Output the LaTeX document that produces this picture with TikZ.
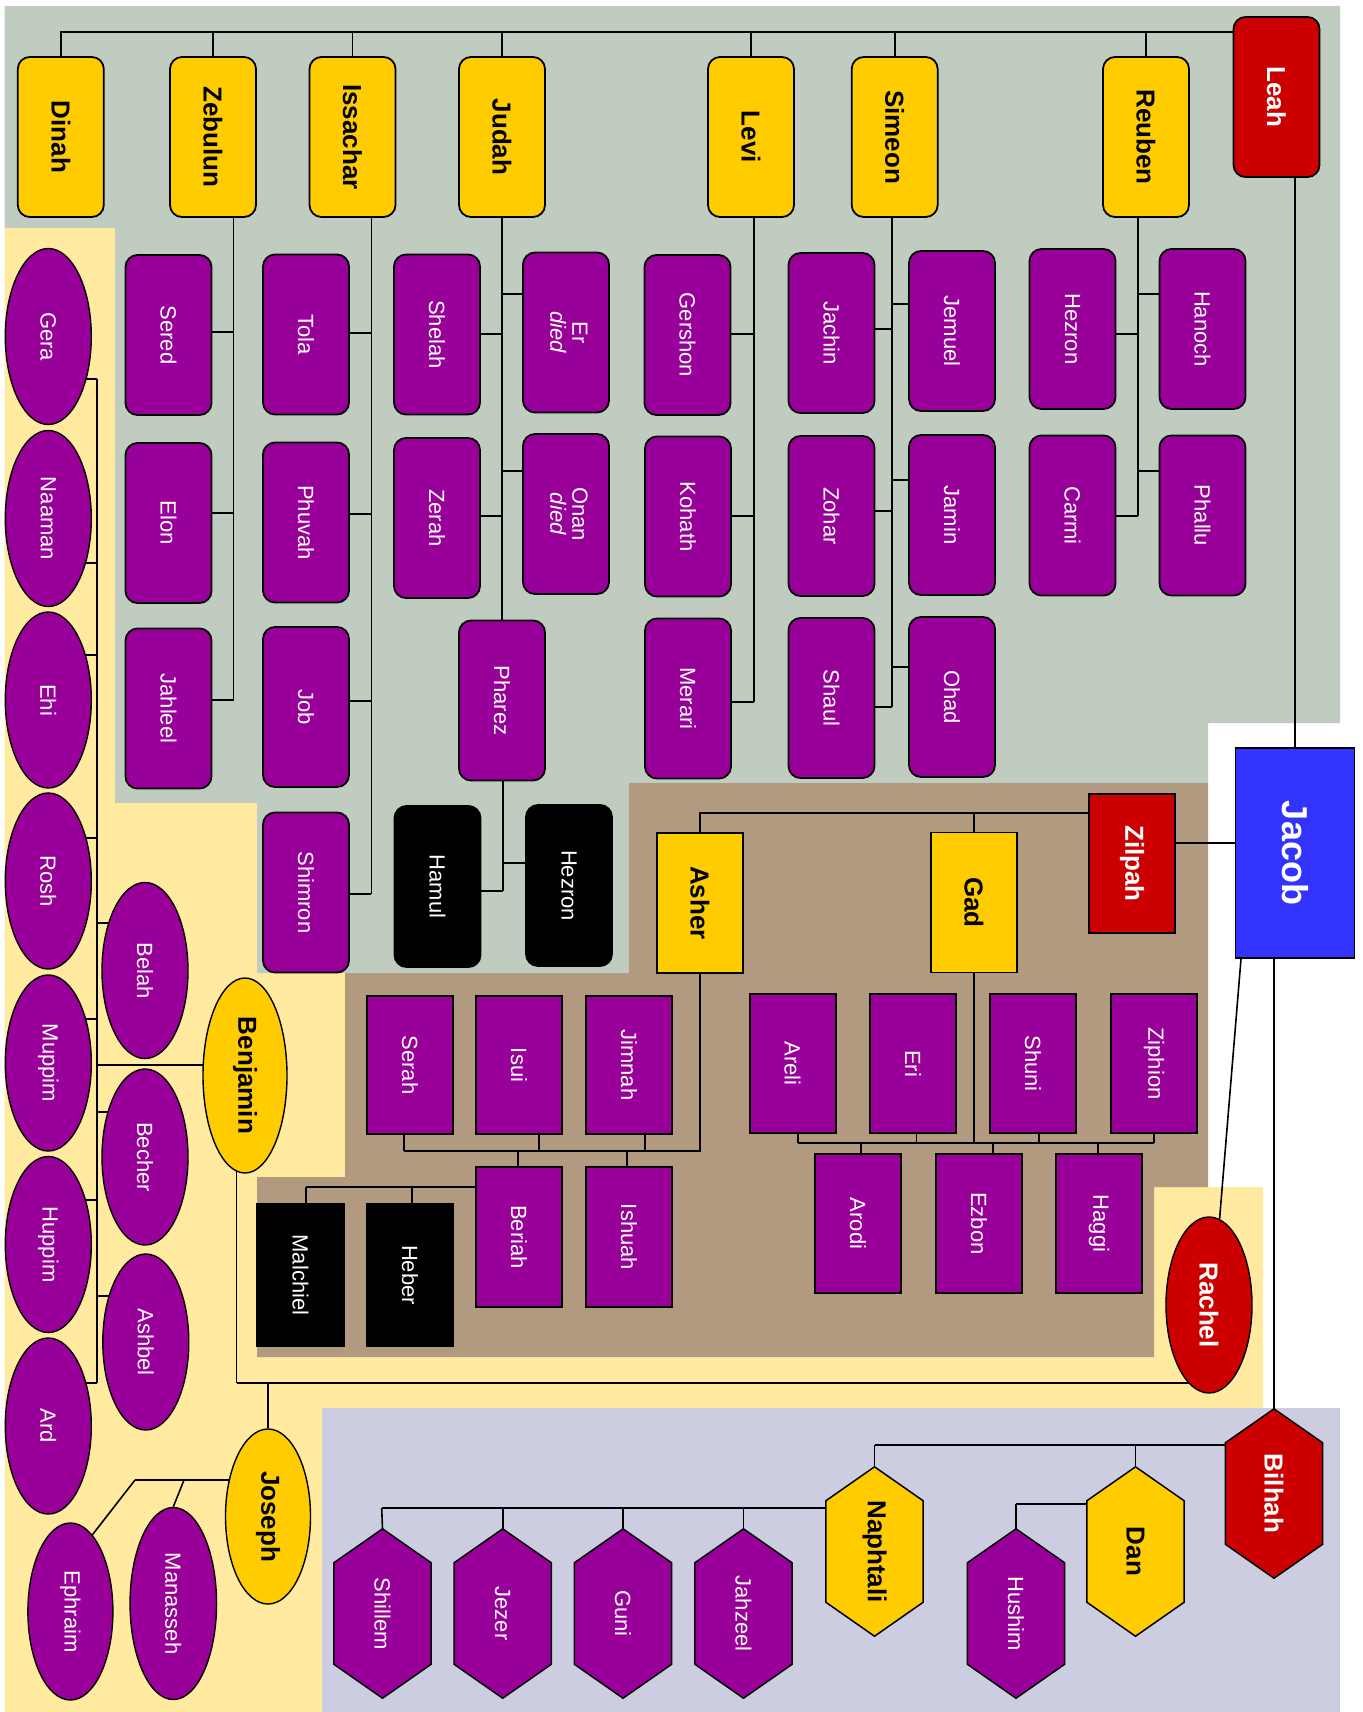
\documentclass[tikz,border=0pt]{standalone}
\usepackage{fontspec}
\setmainfont{Liberation Sans}
\usepackage{graphicx}
\usetikzlibrary{shapes.geometric}
\definecolor{purp}{HTML}{990099}
\definecolor{gold}{HTML}{FFCC00}
\definecolor{redc}{HTML}{CC0000}
\definecolor{bluec}{HTML}{3333FF}
\definecolor{bggray}{RGB}{193,204,193}
\definecolor{bgyel}{RGB}{255,234,160}
\definecolor{bgtan}{RGB}{178,154,128}
\definecolor{bgblue}{RGB}{204,205,224}
\pgfdeclarelayer{bglayer}
\pgfdeclarelayer{linelayer}
\pgfdeclarelayer{shapelayer}
\pgfsetlayers{bglayer,linelayer,shapelayer,main}
\newcommand\myrot[1]{\rotatebox{-90}{#1}}
\newcommand\hlink[3]{\path ([shift={(0,#2)}]#1.center) coordinate (tmpc); \draw[conn] (tmpc) -- (tmpc -| #3);}
\newcommand\vlink[3]{\path ([shift={(#2,0)}]#1.center) coordinate (tmpc); \draw[conn] (tmpc) -- (tmpc |- #3);}
\newcommand\hexa[2]{\filldraw[fill=#2,draw=black,line width=1.5pt] (#1.north) -- ([yshift=-34pt]#1.north east) -- ([yshift=34pt]#1.south east) -- (#1.south) -- ([yshift=34pt]#1.south west) -- ([yshift=-34pt]#1.north west) -- cycle;}
\tikzset{
  conn/.style={draw=black, line width=1.6pt},
  base/.style={draw=black, line width=1.8pt, inner sep=0pt, minimum width=86pt, minimum height=160pt},
  kidfont/.style={text=white, font=\fontsize{22}{20}\selectfont},
  parfont/.style={text=black, font=\bfseries\fontsize{26}{30}\selectfont},
  kid/.style={base, fill=purp, kidfont, rounded corners=12pt},
  blk/.style={base, fill=black, kidfont, rounded corners=12pt, minimum height=161pt},
  par/.style={base, fill=gold, parfont, rounded corners=12pt},
  kidsq/.style={base, fill=purp, kidfont, minimum height=139pt},
  blksq/.style={base, fill=black, kidfont, minimum width=87pt, minimum height=142pt},
  parsq/.style={base, fill=gold, parfont, minimum height=140pt},
  kidel/.style={ellipse, draw=black, line width=1.4pt, inner sep=0pt, fill=purp, kidfont, minimum width=86pt, minimum height=176pt},
  parel/.style={ellipse, draw=black, line width=1.4pt, inner sep=0pt, fill=gold, parfont, minimum width=85pt, minimum height=175pt},
  hexn/.style={rectangle, draw=none, inner sep=0pt, minimum width=97pt, minimum height=169pt},
}
\begin{document}
\begin{tikzpicture}[x=1pt,y=-1pt]
\useasboundingbox (0,0) rectangle (1362,1712);
\begin{pgfonlayer}{bglayer}
\fill[white] (0,0) rectangle (1362,1712);
\fill[bgyel] (4.5,228) -- (1154,228) -- (1154,1187) -- (1263,1187) -- (1263,1408) -- (322,1408) -- (322,1712) -- (4.5,1712) -- cycle;
\fill[bggray] (4.5,6) -- (1340,6) -- (1340,723) -- (1208,723) -- (1208,783) -- (629,783) -- (629,973) -- (257,973) -- (257,803) -- (115,803) -- (115,228) -- (4.5,228) -- cycle;
\fill[bgtan] (629,783) -- (1208,783) -- (1208,1187) -- (1154,1187) -- (1154,1357) -- (257,1357) -- (257,1177) -- (345,1177) -- (345,973) -- (629,973) -- cycle;
\fill[bgblue] (322,1408) rectangle (1340,1712);
\end{pgfonlayer}

% ---------- Leah ----------
\node[par] (dinah) at (60.8,137) {\myrot{Dinah}};
\node[par] (zebulun) at (213,137) {\myrot{Zebulun}};
\node[par] (issachar) at (352.5,137) {\myrot{Issachar}};
\node[par] (judah) at (502,137) {\myrot{Judah}};
\node[par] (levi) at (751,137) {\myrot{Levi}};
\node[par] (simeon) at (894.7,137) {\myrot{Simeon}};
\node[par] (reuben) at (1146,137) {\myrot{Reuben}};
\node[par, fill=redc, text=white] (leah) at (1276.5,97) {\myrot{Leah}};

\node[kid] (sered) at (168.5,335) {\myrot{Sered}};
\node[kid] (elon) at (168.5,523) {\myrot{Elon}};
\node[kid] (jahleel) at (168.5,708.5) {\myrot{Jahleel}};
\node[kid] (tola) at (306,334.5) {\myrot{Tola}};
\node[kid] (phuvah) at (306,522.5) {\myrot{Phuvah}};
\node[kid] (job) at (306,707) {\myrot{Job}};
\node[kid] (shimron) at (306,892.5) {\myrot{Shimron}};
\node[kid] (er) at (566,332.5) {\myrot{\begin{tabular}{@{}c@{}}Er\\\textit{died}\end{tabular}}};
\node[kid] (shelah) at (437,334.5) {\myrot{Shelah}};
\node[kid] (onan) at (566,514) {\myrot{\begin{tabular}{@{}c@{}}Onan\\\textit{died}\end{tabular}}};
\node[kid] (zerah) at (437,518) {\myrot{Zerah}};
\node[kid] (pharez) at (502,700.5) {\myrot{Pharez}};
\node[blk] (hezronj) at (569,885.5) {\myrot{Hezron}};
\node[blk] (hamul) at (437.5,886.5) {\myrot{Hamul}};
\node[kid] (gershon) at (687.5,335) {\myrot{Gershon}};
\node[kid] (kohath) at (688,516.5) {\myrot{Kohath}};
\node[kid] (merari) at (688,698.5) {\myrot{Merari}};
\node[kid] (jachin) at (831.5,333) {\myrot{Jachin}};
\node[kid] (jemuel) at (952,331) {\myrot{Jemuel}};
\node[kid] (zohar) at (831.5,516) {\myrot{Zohar}};
\node[kid] (jamin) at (952,515) {\myrot{Jamin}};
\node[kid] (shaul) at (831.5,698) {\myrot{Shaul}};
\node[kid] (ohad) at (952,697) {\myrot{Ohad}};
\node[kid] (hezronr) at (1072.5,329) {\myrot{Hezron}};
\node[kid] (hanoch) at (1202.5,329) {\myrot{Hanoch}};
\node[kid] (carmi) at (1072.5,515.5) {\myrot{Carmi}};
\node[kid] (phallu) at (1202.5,515.5) {\myrot{Phallu}};

% ---------- Jacob ----------
\node[draw=black, line width=1.8pt, fill=bluec, text=white, font=\bfseries\fontsize{36}{40}\selectfont, minimum width=119pt, minimum height=210pt, inner sep=0pt] (jacob) at (1295,853) {\myrot{Jacob}};

% ---------- Zilpah ----------
\node[base, fill=redc, text=white, font=\bfseries\fontsize{26}{30}\selectfont, minimum height=139pt] (zilpah) at (1132,863.5) {\myrot{Zilpah}};
\node[parsq] (asher) at (700,903) {\myrot{Asher}};
\node[parsq] (gad) at (974,902.5) {\myrot{Gad}};
\node[kidsq, minimum height=138pt] (serah) at (410,1065) {\myrot{Serah}};
\node[kidsq, minimum height=138pt] (isui) at (519,1065) {\myrot{Isui}};
\node[kidsq, minimum height=138pt] (jimnah) at (629,1065) {\myrot{Jimnah}};
\node[kidsq, minimum height=140pt] (beriah) at (519,1237) {\myrot{Beriah}};
\node[kidsq, minimum height=140pt] (ishuah) at (629,1237) {\myrot{Ishuah}};
\node[blksq] (malchiel) at (300.5,1275) {\myrot{Malchiel}};
\node[blksq] (heber) at (410,1275) {\myrot{Heber}};
\node[kidsq] (areli) at (792.6,1063.5) {\myrot{Areli}};
\node[kidsq] (eri) at (913,1063.5) {\myrot{Eri}};
\node[kidsq] (shuni) at (1033,1063.5) {\myrot{Shuni}};
\node[kidsq] (ziphion) at (1154,1063.5) {\myrot{Ziphion}};
\node[kidsq] (arodi) at (858,1223.5) {\myrot{Arodi}};
\node[kidsq] (ezbon) at (979,1223.5) {\myrot{Ezbon}};
\node[kidsq] (haggi) at (1099,1223.5) {\myrot{Haggi}};

% ---------- Rachel ----------
\node[parel, fill=redc, text=white, minimum width=86pt, minimum height=176pt] (rachel) at (1209,1305) {\myrot{Rachel}};
\node[parel, minimum width=84pt, minimum height=195pt] (benjamin) at (245,1075.5) {\myrot{Benjamin}};
\node[parel] (joseph) at (268,1516.5) {\myrot{Joseph}};
\node[kidel] (gera) at (48.3,336.5) {\myrot{Gera}};
\node[kidel] (naaman) at (48.3,518.5) {\myrot{Naaman}};
\node[kidel] (ehi) at (48.3,700) {\myrot{Ehi}};
\node[kidel] (rosh) at (48.3,881) {\myrot{Rosh}};
\node[kidel] (muppim) at (48.3,1063) {\myrot{Muppim}};
\node[kidel] (huppim) at (48.3,1244.5) {\myrot{Huppim}};
\node[kidel] (ard) at (48.3,1426) {\myrot{Ard}};
\node[kidel] (belah) at (145,970.5) {\myrot{Belah}};
\node[kidel] (becher) at (145,1157) {\myrot{Becher}};
\node[kidel] (ashbel) at (145.8,1342) {\myrot{Ashbel}};
\node[kidel, minimum width=85pt, minimum height=177pt] (ephraim) at (70.4,1611.5) {\myrot{Ephraim}};
\node[kidel, minimum width=86.5pt, minimum height=192pt] (manasseh) at (173.3,1603.5) {\myrot{Manasseh}};

% ---------- Bilhah ----------
\node[hexn, text=white, font=\bfseries\fontsize{26}{30}\selectfont] (bilhah) at (1274,1493.5) {\myrot{Bilhah}};
\node[hexn, parfont] (naphtali) at (874.5,1551.5) {\myrot{Naphtali}};
\node[hexn, parfont] (dan) at (1135.5,1551.5) {\myrot{Dan}};
\node[hexn, kidfont] (hushim) at (1016,1613.5) {\myrot{Hushim}};
\node[hexn, kidfont] (jahzeel) at (743.5,1613.5) {\myrot{Jahzeel}};
\node[hexn, kidfont] (guni) at (623,1613.5) {\myrot{Guni}};
\node[hexn, kidfont] (jezer) at (502.7,1613.5) {\myrot{Jezer}};
\node[hexn, kidfont] (shillem) at (382.5,1613.5) {\myrot{Shillem}};
\begin{pgfonlayer}{shapelayer}
\hexa{bilhah}{redc}
\hexa{naphtali}{gold}
\hexa{dan}{gold}
\hexa{hushim}{purp}
\hexa{jahzeel}{purp}
\hexa{guni}{purp}
\hexa{jezer}{purp}
\hexa{shillem}{purp}
\end{pgfonlayer}

% ---------- connectors ----------
\begin{pgfonlayer}{linelayer}
\coordinate (topl) at (0,32);
\draw[conn] (dinah.north) |- (topl -| leah.west);
\foreach \n in {zebulun,issachar,judah,levi,simeon,reuben}
  \draw[conn] (\n.north) -- (\n.north |- topl);
% Zebulun
\coordinate (zs) at (233.5,700);
\draw[conn] (zebulun.south -| zs) -- (zs);
\hlink{sered}{-3}{zs}\hlink{elon}{-10}{zs}\hlink{jahleel}{-8.5}{zs}
% Issachar
\coordinate (iss) at (371.4,894);
\draw[conn] (issachar.south -| iss) -- (iss);
\hlink{tola}{-1.5}{iss}\hlink{phuvah}{-8.5}{iss}\hlink{job}{-6}{iss}\hlink{shimron}{1.5}{iss}
% Judah
\draw[conn] (judah.south) -- (pharez.north);
\coordinate (js) at (502,0);
\hlink{er}{-38.5}{js}\hlink{shelah}{-0.5}{js}\hlink{onan}{-43}{js}\hlink{zerah}{-2}{js}
\coordinate (ps) at (503,891);
\draw[conn] (pharez.south -| ps) -- (ps);
\hlink{hezronj}{-22.5}{ps}\hlink{hamul}{4.5}{ps}
% Levi
\coordinate (ls) at (754,702);
\draw[conn] (levi.south -| ls) -- (ls);
\hlink{gershon}{-1}{ls}\hlink{kohath}{-0.5}{ls}\hlink{merari}{3.5}{ls}
% Simeon
\coordinate (ss) at (892,707);
\draw[conn] (simeon.south -| ss) -- (ss);
\hlink{jachin}{-4}{ss}\hlink{jemuel}{-27}{ss}\hlink{zohar}{-5}{ss}\hlink{jamin}{-35}{ss}\hlink{shaul}{9}{ss}\hlink{ohad}{-30}{ss}
% Reuben
\coordinate (rs) at (1138,516);
\draw[conn] (reuben.south -| rs) -- (rs);
\hlink{hezronr}{5}{rs}\hlink{hanoch}{-35}{rs}\hlink{carmi}{0.5}{rs}\hlink{phallu}{-44.5}{rs}
% Jacob
\draw[conn] (leah.south -| jacob.north) -- (jacob.north);
\hlink{zilpah}{-20.5}{jacob}
\draw[conn] ([xshift=-54pt]jacob.south) -- (rachel.83);
\draw[conn] ([xshift=-21pt]jacob.south) -- (bilhah.north);
% Zilpah
\coordinate (zl) at (0,813);
\draw[conn] (zilpah.center |- zl) -- (zl -| asher.north) -- (asher.north);
\draw[conn] (gad.north) -- (gad.north |- zl);
\coordinate (asl) at (404,1151);
\draw[conn] (asher.south) |- (asl);
\vlink{serah}{-6}{asl}\vlink{isui}{20}{asl}\vlink{jimnah}{16}{asl}\vlink{beriah}{-1}{asl}\vlink{ishuah}{-2}{asl}
\coordinate (bl) at (306,1187);
\hlink{beriah}{-50}{bl}
\vlink{malchiel}{5.5}{bl}\vlink{heber}{2}{bl}
\coordinate (gl) at (0,1143);
\coordinate (gll) at (798,1143);
\coordinate (glr) at (1154,1143);
\draw[conn] (gad.south) -- (gad.south |- gl);
\draw[conn] (gll) -- (glr);
\vlink{areli}{5.4}{gl}\vlink{eri}{3.5}{gl}\vlink{shuni}{6}{gl}\vlink{ziphion}{0}{gl}
\vlink{arodi}{3}{gl}\vlink{ezbon}{14}{gl}\vlink{haggi}{-1}{gl}
% Rachel
\coordinate (rl) at (236.6,1383);
\hlink{rachel}{78}{rl}
\draw[conn] (rl) -- (rl |- benjamin.center);
\draw[conn] (joseph.north |- rl) -- (joseph.north);
\coordinate (bsa) at (97,379);
\coordinate (bsb) at (97,1383);
\draw[conn] (bsa) -- (bsb);
\hlink{benjamin}{-10.5}{bsa}
\hlink{gera}{42.5}{bsa}\hlink{naaman}{44.5}{bsa}\hlink{ehi}{-45}{bsa}\hlink{rosh}{-43}{bsa}
\hlink{muppim}{-44}{bsa}\hlink{huppim}{-44.5}{bsa}\hlink{ard}{-43}{bsa}
\hlink{belah}{-47.5}{bsa}\hlink{becher}{-45}{bsa}\hlink{ashbel}{-46}{bsa}
\coordinate (jl) at (135,1480);
\coordinate (jm) at (184,1480);
\hlink{joseph}{-36.5}{jl}
\draw[conn] (jl) -- (ephraim.74);
\draw[conn] (jm) -- (manasseh.north);
% Bilhah
\coordinate (bhl) at (874.5,1445);
\hlink{bilhah}{-48.5}{bhl}
\draw[conn] (naphtali.north) -- (naphtali.north |- bhl);
\draw[conn] (dan.north) -- (dan.north |- bhl);
\coordinate (dl) at (1016,1504);
\hlink{dan}{-47.5}{dl}
\draw[conn] (dl) -- (hushim.north);
\coordinate (nl) at (381.7,1508);
\hlink{naphtali}{-43.5}{nl}
\draw[conn] (nl) -- (shillem.north);
\foreach \n in {jezer,guni,jahzeel}
  \draw[conn] (\n.north) -- (\n.north |- nl);
\end{pgfonlayer}
\end{tikzpicture}
\end{document}
